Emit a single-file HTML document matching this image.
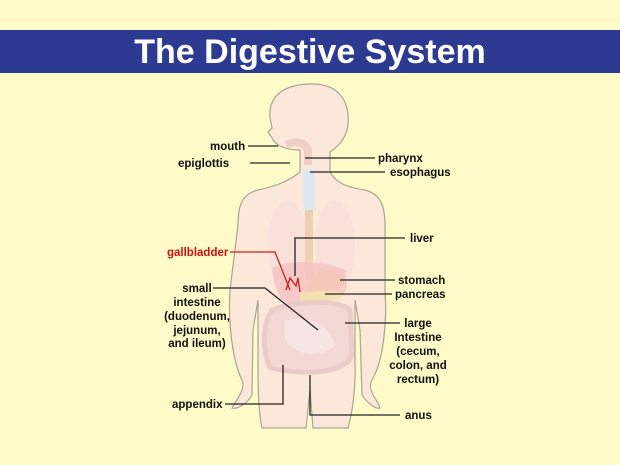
<!DOCTYPE html>
<html><head><style>
body{margin:0;background:#fffbc8;}
svg{display:block}
text{font-family:"Liberation Sans",sans-serif;font-weight:bold;font-size:11.5px;fill:#111}
</style></head><body>
<svg width="620" height="465" viewBox="0 0 620 465" xmlns="http://www.w3.org/2000/svg">
<rect width="620" height="465" fill="#fffbc8"/>
<rect x="0" y="30" width="620" height="43" fill="#2c3a92"/>
<text x="310" y="63" text-anchor="middle" style="font-size:34px;fill:#fff;font-weight:bold">The Digestive System</text>
<path d="M300,150 C285,150 275,145 272,138 L268,132 L272,128 L270,118 C268,95 285,84 312,84 C338,84 350,100 348,125 C346,140 336,148 330,152 L330,172 C335,182 345,187 365,190 C380,194 385,205 385,225 L385,290 C387,320 384,360 372,380 C366,390 378,400 380,408 C375,410 365,400 362,395 L360,330 L355,300 L355,360 C356,400 350,420 348,428 L313,428 L310,390 L306,428 L262,428 C258,410 258,380 258,360 L258,300 L253,330 L252,395 C248,402 238,410 232,408 C236,400 246,390 242,380 C232,360 228,320 230,290 L238,225 C238,205 242,194 258,190 C278,186 290,180 300,172 Z" fill="#fce8d8" stroke="#a9a39a" stroke-width="1.2"/>
<ellipse cx="288" cy="245" rx="20" ry="45" fill="#f7dcdc" opacity="0.6"/>
<ellipse cx="335" cy="245" rx="20" ry="45" fill="#f7dcdc" opacity="0.6"/>
<rect x="303" y="170" width="12" height="40" fill="#dde8f0"/>
<path d="M309,210 L309,280" stroke="#efcfb2" stroke-width="8" fill="none"/>
<path d="M286,145 C295,140 305,142 308,150 L308,165" stroke="#efcfc6" stroke-width="8" fill="none"/>
<path d="M272,268 C290,258 330,262 345,270 C350,290 320,300 300,305 C285,306 275,300 272,268Z" fill="#f2c2c2" opacity="0.8"/>
<path d="M320,270 C340,270 352,280 345,292 C330,300 310,298 300,300 Z" fill="#f3c8b4" opacity="0.8"/>
<path d="M300,293 C320,290 340,290 345,295 C330,305 310,305 300,300Z" fill="#f4e0b0"/>
<path d="M272,310 C300,300 340,300 350,310 L352,355 C345,375 300,375 270,368 C262,350 262,325 272,310Z" fill="#f2d6d6" stroke="#e8c8c8" stroke-width="5" opacity="0.85"/>
<path d="M285,320 C310,315 330,325 335,345 C320,360 295,355 285,340Z" fill="#f6e4e4"/>
<path d="M286,290 L290,278 L296,286 L298,278 L300,292" stroke="#c22" stroke-width="1.4" fill="none"/>
<g stroke="#222" stroke-width="1.3" fill="none">
<path d="M248,146 L278,146"/>
<path d="M250,163 L290,163"/>
<path d="M305,158 L375,158"/>
<path d="M310,172 L385,172"/>
<path d="M405,238 L295,238 L295,276"/>
<path d="M340,280 L395,280"/>
<path d="M325,294 L392,294"/>
<path d="M213,288 L265,288 L318,330"/>
<path d="M345,323 L400,323"/>
<path d="M225,404 L283,404 L283,365"/>
<path d="M400,415 L310,415 L310,375"/>
</g>
<path d="M230,252 L275,252 L290,290" stroke="#c22" stroke-width="1.3" fill="none"/>
<text x="210" y="150">mouth</text>
<text x="178" y="167">epiglottis</text>
<text x="378" y="162">pharynx</text>
<text x="390" y="176">esophagus</text>
<text x="410" y="242">liver</text>
<text x="167" y="256" style="fill:#d21010">gallbladder</text>
<text x="398" y="284">stomach</text>
<text x="395" y="298">pancreas</text>
<g text-anchor="middle">
<text x="197" y="292">small</text>
<text x="197" y="306">intestine</text>
<text x="197" y="320">(duodenum,</text>
<text x="197" y="334">jejunum,</text>
<text x="197" y="347">and ileum)</text>
<text x="418" y="327">large</text>
<text x="418" y="341">Intestine</text>
<text x="418" y="355">(cecum,</text>
<text x="418" y="369">colon, and</text>
<text x="418" y="383">rectum)</text>
</g>
<text x="172" y="408">appendix</text>
<text x="405" y="419">anus</text>
</svg>
</body></html>
